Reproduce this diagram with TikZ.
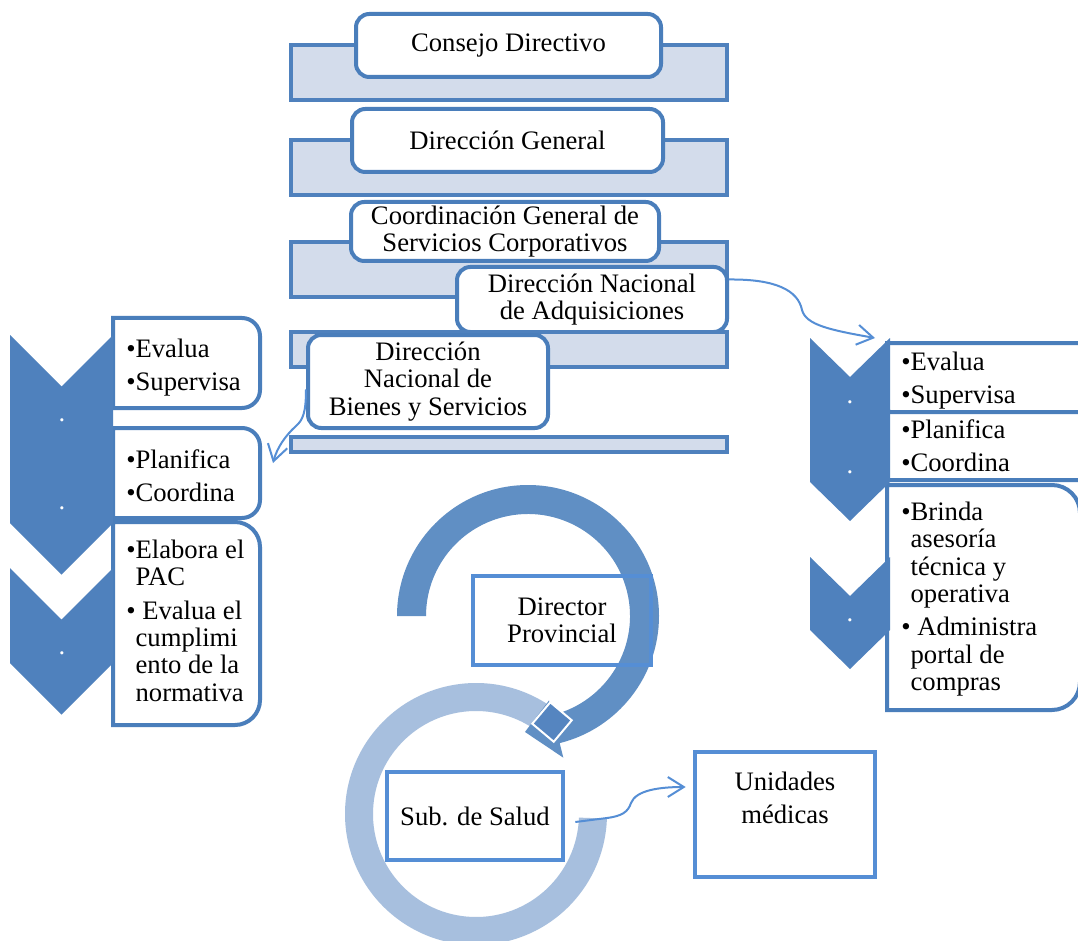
\documentclass[tikz,border=0pt]{standalone}
\usepackage{fontspec}
\setmainfont{Liberation Serif}
\usetikzlibrary{arrows.meta,calc}

\definecolor{barfill}{RGB}{211,220,235}
\definecolor{barline}{RGB}{79,129,189}
\definecolor{boxline}{RGB}{74,126,187}
\definecolor{chevfill}{RGB}{79,129,189}
\definecolor{linkblue}{RGB}{85,142,213}
\definecolor{ringdark}{RGB}{96,143,196}
\definecolor{ringlight}{RGB}{167,191,222}
\definecolor{capfill}{RGB}{85,133,192}

% frame with square left corners and rounded right corners: x0, y0, x1, y1, radius
\newcommand\listframe[5]{%
  \draw[listbox] (#1,-#2) -- ({#3-#5},-#2)
    .. controls ({#3-0.45*#5},-#2) and (#3,{-#2-0.45*#5}) .. (#3,{-#2-#5})
    -- (#3,{-#4+#5})
    .. controls (#3,{-#4+0.45*#5}) and ({#3-0.45*#5},-#4) .. ({#3-#5},-#4)
    -- (#1,-#4) -- cycle;}

% downward chevron: x0, x1, y0, y1, notch depth
\newcommand\downchev[5]{%
  \fill[chevfill] (#1,-#3) -- ({(#1+#2)/2},{-#3-#5}) -- (#2,-#3) -- (#2,-#4)
    -- ({(#1+#2)/2},{-#4-#5}) -- (#1,-#4) -- cycle;}

\begin{document}
\begin{tikzpicture}[x=0.75pt,y=0.75pt,
  font=\fontsize{20}{20.5}\selectfont,
  bar/.style={draw=barline, fill=barfill, line width=3pt},
  tbox/.style={draw=boxline, fill=white, line width=3pt, rounded corners=10pt,
    inner sep=0pt, align=center},
  boxsz/.style 2 args={minimum width=#1*0.75pt, minimum height=#2*0.75pt},
  listbox/.style={draw=boxline, fill=white, line width=3pt},
  listtext/.style={anchor=north west, align=left, inner sep=0pt},
  dotlbl/.style={text=white, inner sep=0pt},
  pbox/.style={draw=linkblue, line width=3.5pt, inner sep=0pt, align=center},
  link/.style={draw=linkblue, line width=1.5pt,
    -{Straight Barb[length=12pt,width=15pt]}}]

\fill[white] (0,0) rectangle (1078,-941);
\useasboundingbox (0,0) rectangle (1078,-941);
\clip (0,0) rectangle (1078,-941);

% ---------- hierarchy stack ----------
\draw[bar] (291,-45) rectangle (727,-100);
\node[tbox, boxsz={305}{63}] (cd) at (508.5,-45.5) {Consejo Directivo};

\draw[bar] (291,-140) rectangle (727,-195);
\node[tbox, boxsz={311}{63}] (dg) at (507.5,-140.5) {Dirección General};

\draw[bar] (291,-242) rectangle (727,-297);
\node[tbox, boxsz={308}{59}] (cg) at (505,-231.5)
  {Coordinación General de\\Servicios Corporativos};
\node[tbox, boxsz={270}{65}] (adq) at (592,-299.5)
  {Dirección Nacional\\de Adquisiciones};

\draw[bar] (291,-332) rectangle (727,-367);
\node[tbox, boxsz={240}{93}] (bns) at (428,-381.5)
  {Dirección\\Nacional de\\Bienes y Servicios};

\draw[bar] (291,-437) rectangle (727,-452);

% ---------- left chevron list ----------
\listframe{113}{318}{260}{408}{18}
\listframe{113}{428}{260}{518}{18}
\listframe{113}{522}{260}{725}{25}
\downchev{10}{113}{335}{430}{51.5}
\downchev{10}{113}{428}{523}{51.5}
\downchev{10}{113}{568}{663}{51.5}
\node[dotlbl] (ld1) at (62,-420) {.};
\node[dotlbl] (ld2) at (62,-508) {.};
\node[dotlbl] (ld3) at (62,-653) {.};
\node[listtext] (l1) at (126,-338) {\strut•Evalua\\[4.5pt]•Supervisa};
\node[listtext] (l2) at (126,-449) {\strut•Planifica\\[4.5pt]•Coordina};
\node[listtext] (l3) at (126,-539)
  {\strut•Elabora el\\\phantom{•}PAC\\[4.5pt]• Evalua el\\\phantom{•}cumplimi\\%
   \phantom{•}ento de la\\\phantom{•}normativa};

% ---------- right chevron list ----------
\listframe{887}{343}{1110}{412}{20}
\listframe{887}{412}{1110}{480}{20}
\listframe{887}{485}{1080}{710}{28}
\downchev{810}{890}{338}{411}{39}
\downchev{810}{890}{409}{482}{39}
\downchev{810}{890}{557}{630}{39}
\node[dotlbl] (rd1) at (850,-402) {.};
\node[dotlbl] (rd2) at (850,-472) {.};
\node[dotlbl] (rd3) at (850,-620) {.};
\node[listtext] (r1) at (901,-351) {\strut•Evalua\\[4.5pt]•Supervisa};
\node[listtext] (r2) at (901,-419) {\strut•Planifica\\[4.5pt]•Coordina};
\node[listtext] (r3) at (901,-501)
  {\strut•Brinda\\\phantom{•}asesoría\\\phantom{•}técnica y\\\phantom{•}operativa\\[4.5pt]%
   • Administra\\\phantom{•}portal de\\\phantom{•}compras};

% ---------- circular arrows ----------
\coordinate (lc) at (476,-814);
\fill[ringlight] ($(lc)+(50:131)$) arc[start angle=50, end angle=358, radius=131]
  -- ($(lc)+(358:103)$) arc[start angle=358, end angle=50, radius=103] -- cycle;

\coordinate (dc) at (528,-616);
\fill[ringdark] ($(dc)+(180:131)$) arc[start angle=180, end angle=-76, radius=131]
  -- ($(dc)+(-76:146)$) -- ($(dc)+(-91.5:116)$) -- ($(dc)+(-76:87)$)
  -- ($(dc)+(-76:102)$) arc[start angle=-76, end angle=180, radius=102] -- cycle;

\node[draw=white, line width=1.5pt, fill=capfill, minimum size=28*0.75pt,
  inner sep=0pt, rotate=50] (cap) at (552,-722) {};

\node[pbox, boxsz={178}{89}] (dp) at (562,-620.5) {Director\\Provincial};
\node[pbox, boxsz={176}{88}] (sal) at (475,-816) {Sub. de Salud};
\node[pbox, boxsz={180}{125}] (um) at (785,-814.5) {};
\node[anchor=north, align=center, inner sep=0pt] (umt) at (785,-771)
  {\strut Unidades\\[4pt]médicas};

% ---------- connectors ----------
\coordinate (rin) at (875,-338);
\draw[link] ([yshift=20*0.75pt]adq.east) .. controls (775,-279) and (798,-290) .. (802,-310)
  .. controls (806,-325) and (830,-330) .. (rin);

\coordinate (lin) at (273,-463);
\draw[link] ([yshift=-8*0.75pt]bns.west) .. controls (306,-412) and (303,-420) .. (296,-426)
  .. controls (285,-436) and (277,-448) .. (lin);

\draw[link] ([shift={(10,-6)}]sal.east) -- (607,-818)
  .. controls (622,-816) and (628,-812) .. (631,-803)
  .. controls (636,-790) and (660,-787) .. ([shift={(-7,27.5)}]um.west);

\end{tikzpicture}
\end{document}
